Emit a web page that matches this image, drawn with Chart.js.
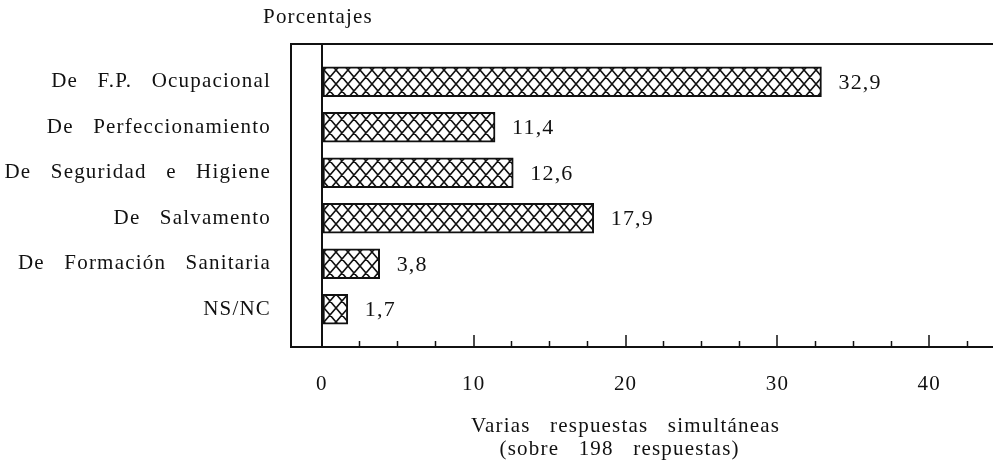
<!DOCTYPE html>
<html lang="es">
<head>
<meta charset="utf-8">
<title>Tipos de cursos</title>
<script src="https://cdn.jsdelivr.net/npm/chart.js@4.4.1/dist/chart.umd.min.js"></script>
<style>
  html, body { margin: 0; padding: 0; background: #fff; }
  #wrap { width: 993px; height: 462px; }
</style>
</head>
<body>
<div id="wrap"><canvas id="chart" width="993" height="462"></canvas></div>
<script>
// Course types and the share of answers for each (percent)
const categories = [
  'De F.P. Ocupacional',
  'De Perfeccionamiento',
  'De Seguridad e Higiene',
  'De Salvamento',
  'De Formación Sanitaria',
  'NS/NC'
];
const percentages = [32.9, 11.4, 12.6, 17.9, 3.8, 1.7];

// Axis ticks: labelled majors and the small marks between them
const xTickLabels = [0, 10, 20, 30, 40];
const xMinorTicks = [2.5, 5, 7.5, 12.5, 15, 17.5, 22.5, 25, 27.5, 32.5, 35, 37.5, 42.5];

const X_MIN = -2.04, X_MAX = 44.2;
const Y_MIN = -0.83, Y_MAX = 5.83;

const SERIF = '"Liberation Serif", "Times New Roman", serif';
const INK = '#111';

// Cross-hatched fill for the bars
function crossHatch() {
  const w = 12, h = 14;
  const c = document.createElement('canvas');
  c.width = w; c.height = h;
  const g = c.getContext('2d');
  g.fillStyle = '#fff';
  g.fillRect(0, 0, w, h);
  g.strokeStyle = INK;
  g.lineWidth = 1.6;
  g.beginPath();
  for (const dx of [-w, 0, w]) {
    g.moveTo(dx, 0); g.lineTo(dx + w, h);
    g.moveTo(dx + w, 0); g.lineTo(dx, h);
  }
  g.stroke();
  return g.createPattern(c, 'repeat');
}

// Spaced lettering with wide gaps between words, as in the printed figure
function spaceText(ctx) {
  ctx.letterSpacing = '1.2px';
  ctx.wordSpacing = '13px';
}
const letterSpacing = {
  id: 'letterSpacing',
  beforeUpdate(chart) { spaceText(chart.ctx); },
  beforeDraw(chart) { spaceText(chart.ctx); }
};

// Value written to the right of each bar
const valueLabels = {
  id: 'valueLabels',
  afterDatasetsDraw(chart) {
    const ctx = chart.ctx;
    const meta = chart.getDatasetMeta(0);
    ctx.save();
    ctx.font = '22px ' + SERIF;
    ctx.fillStyle = INK;
    ctx.textAlign = 'left';
    ctx.textBaseline = 'middle';
    meta.data.forEach((bar, i) => {
      const txt = percentages[i].toFixed(1).replace('.', ',');
      ctx.fillText(txt, bar.x + 17, bar.y + 1);
    });
    ctx.restore();
  }
};

// Caption above the frame and the note under the axis
const captions = {
  id: 'captions',
  afterDraw(chart) {
    const ctx = chart.ctx;
    const area = chart.chartArea;
    const xs = chart.scales.x;
    ctx.save();
    ctx.fillStyle = INK;
    ctx.font = '21px ' + SERIF;
    ctx.textBaseline = 'middle';
    ctx.textAlign = 'left';
    ctx.fillText('Porcentajes', area.left - 28, area.top - 27);
    ctx.textAlign = 'center';
    const cx = xs.getPixelForValue(20);
    ctx.fillText('Varias respuestas simultáneas', cx, area.bottom + 79);
    ctx.fillText('(sobre 198 respuestas)', cx - 6, area.bottom + 102);
    ctx.restore();
  }
};

const hatch = crossHatch();

new Chart(document.getElementById('chart'), {
  type: 'bar',
  data: {
    datasets: [{
      data: percentages.map((v, i) => ({ x: v, y: i })),
      backgroundColor: hatch,
      borderColor: INK,
      borderWidth: 2,
      borderSkipped: false,
      barThickness: 30
    }]
  },
  options: {
    indexAxis: 'y',
    responsive: false,
    animation: false,
    devicePixelRatio: 1,
    layout: { padding: 0 },
    plugins: {
      legend: { display: false },
      tooltip: { enabled: false },
      title: { display: false }
    },
    scales: {
      y: {
        type: 'linear',
        position: 'left',
        reverse: true,
        offset: false,
        min: Y_MIN,
        max: Y_MAX,
        afterBuildTicks: s => { s.ticks = categories.map((_, i) => ({ value: i })); },
        afterFit: s => { s.width = 291; },
        ticks: {
          callback: v => categories[v],
          font: { family: SERIF, size: 21 },
          color: INK,
          padding: 20,
          autoSkip: false
        },
        grid: { display: false, drawTicks: false },
        border: { display: true, color: INK, width: 2 }
      },
      x: {
        type: 'linear',
        position: 'bottom',
        offset: false,
        min: X_MIN,
        max: X_MAX,
        afterBuildTicks: s => { s.ticks = xTickLabels.map(v => ({ value: v })); },
        afterFit: s => { s.height = 115; },
        ticks: {
          font: { family: SERIF, size: 21 },
          color: INK,
          padding: 37,
          maxRotation: 0,
          autoSkip: false
        },
        grid: {
          drawOnChartArea: true,
          color: c => (c.tick && c.tick.value === 0 ? INK : 'rgba(0,0,0,0)'),
          lineWidth: 2,
          tickColor: INK,
          tickWidth: 1.5,
          tickLength: -12
        },
        border: { display: true, color: INK, width: 2 }
      },
      xMinor: {
        type: 'linear',
        axis: 'x',
        position: { y: Y_MAX },
        min: X_MIN,
        max: X_MAX,
        afterBuildTicks: s => { s.ticks = xMinorTicks.map(v => ({ value: v })); },
        ticks: { display: false },
        grid: {
          drawOnChartArea: false,
          tickColor: INK,
          tickWidth: 1.5,
          tickLength: -6
        },
        border: { display: false }
      },
      xTop: {
        type: 'linear',
        axis: 'x',
        position: 'top',
        min: X_MIN,
        max: X_MAX,
        afterFit: s => { s.height = 44; },
        ticks: { display: false },
        grid: { display: false, drawTicks: false },
        border: { display: true, color: INK, width: 2 }
      }
    }
  },
  plugins: [letterSpacing, valueLabels, captions]
});
</script>
</body>
</html>
